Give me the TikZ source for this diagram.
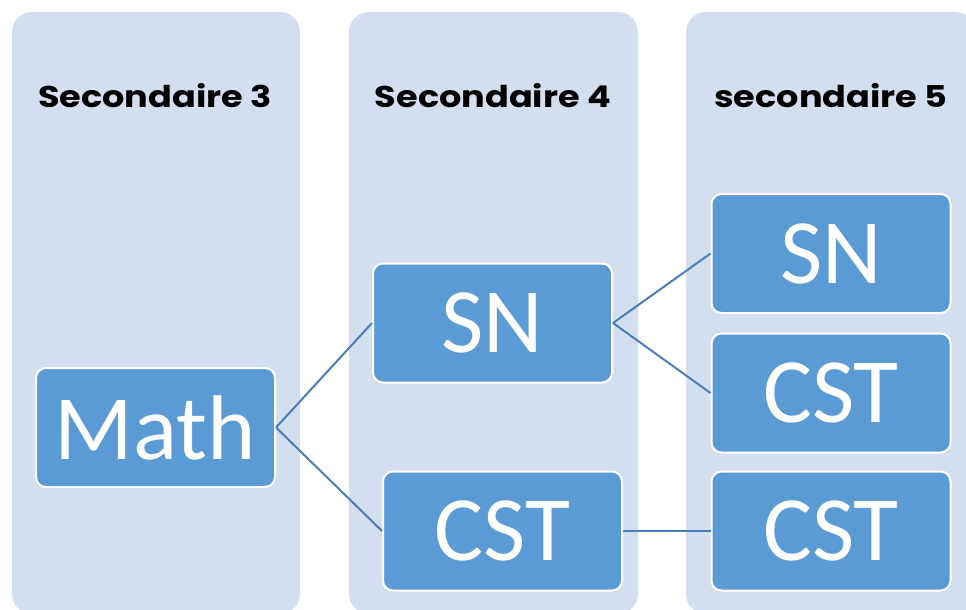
\documentclass[tikz,border=0pt]{standalone}
\usepackage{fontspec}
\setmainfont{Carlito}
\newfontfamily\headfont[FakeStretch=1.17]{Poppins}
\definecolor{colbg}{HTML}{D3DEEF}
\definecolor{boxfill}{HTML}{5B9BD5}
\definecolor{linkcol}{HTML}{4A7EBB}
\begin{document}
\begin{tikzpicture}[x=1pt,y=-1pt,
  column/.style={fill=colbg,rounded corners=20pt},
  header/.style={font=\headfont\fontsize{30}{34}\selectfont\bfseries,text=black,anchor=base},
  item/.style={draw=white,line width=2pt,fill=boxfill,rounded corners=10pt,
     minimum width=239pt,minimum height=119pt,inner sep=0pt,text=white,
     font=\fontsize{92}{100}\selectfont},
  link/.style={draw=linkcol,line width=2pt}]
\useasboundingbox (0,0) rectangle (966,610);
\clip (0,0) rectangle (966,610);
\fill[column] (12,12) rectangle (300,614);
\fill[column] (349,12) rectangle (638,614);
\fill[column] (686,12) rectangle (975,614);
\node[header] (h3) at (155,107) {Secondaire 3};
\node[header] (h4) at (493,107) {Secondaire 4};
\node[header] (h5) at (831,107) {secondaire 5};
\node[item] (math) at (155.5,427.5) {Math};
\node[item] (sn4) at (492.5,323) {SN};
\node[item] (cst4) at (502.5,531) {CST};
\node[item] (sn5) at (831,253.5) {SN};
\node[item] (csta) at (831,393) {CST};
\node[item] (cstb) at (831,531) {CST};
\draw[link] (math.east) -- (sn4.west);
\draw[link] (math.east) -- (cst4.west);
\draw[link] (sn4.east) -- (sn5.west);
\draw[link] (sn4.east) -- (csta.west);
\draw[link] (cst4.east) -- (cstb.west);
\end{tikzpicture}
\end{document}
